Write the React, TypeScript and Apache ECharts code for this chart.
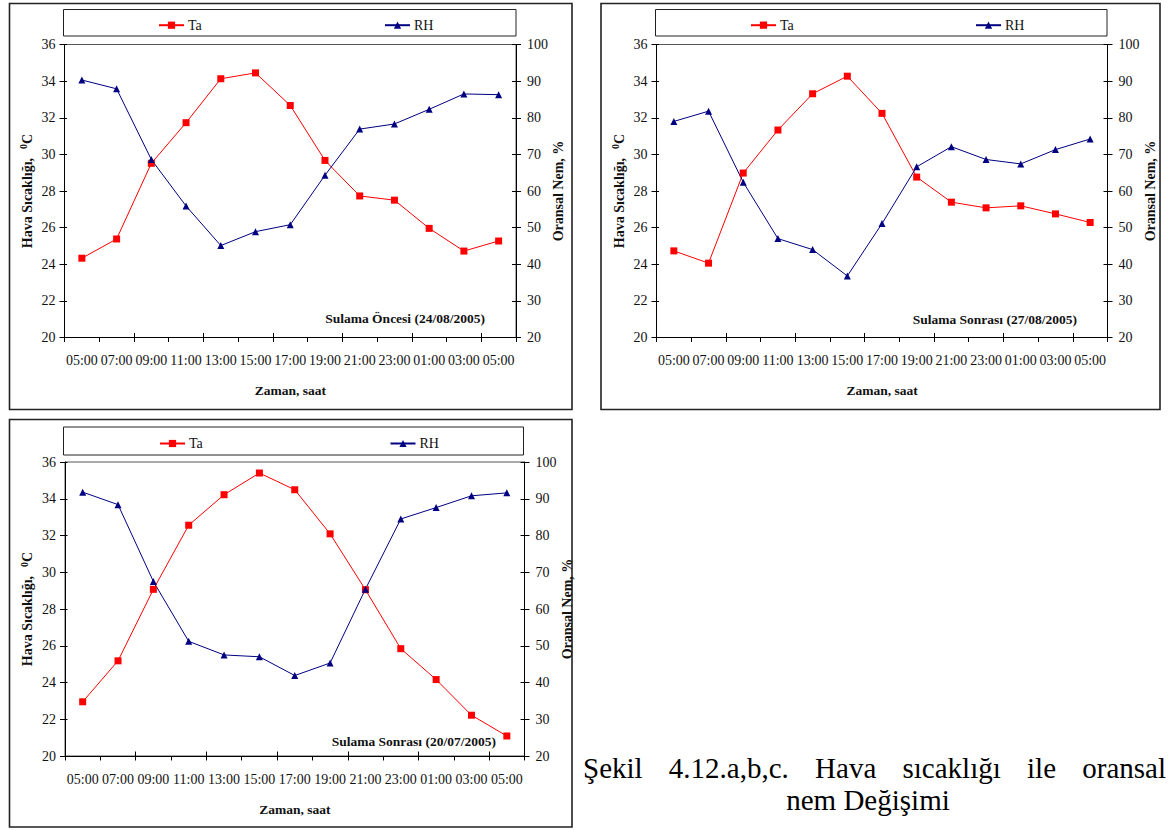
import React, { useEffect, useRef } from "react";
import * as echarts from "echarts";

// ---- data ----
const hours = ["05:00", "07:00", "09:00", "11:00", "13:00", "15:00", "17:00", "19:00", "21:00", "23:00", "01:00", "03:00", "05:00"];
const legendNames = ["Ta", "RH"];

const taA = [24.33, 25.38, 29.51, 31.73, 34.13, 34.45, 32.67, 29.67, 27.73, 27.5, 25.96, 24.72, 25.27];
const rhA = [90.3, 87.9, 68.6, 55.9, 45.1, 48.9, 50.8, 64.3, 76.9, 78.3, 82.3, 86.5, 86.3];
const taB = [24.73, 24.06, 28.98, 31.33, 33.31, 34.27, 32.24, 28.76, 27.39, 27.08, 27.19, 26.75, 26.28];
const rhB = [79.0, 81.8, 62.4, 47.0, 44.0, 36.8, 51.1, 66.6, 72.1, 68.6, 67.4, 71.3, 74.2];
const taC = [22.95, 25.18, 29.07, 32.56, 34.22, 35.4, 34.49, 32.09, 29.05, 25.84, 24.16, 22.22, 21.09];
const rhC = [91.8, 88.4, 67.5, 51.2, 47.5, 47.0, 41.9, 45.3, 65.4, 84.5, 87.6, 90.8, 91.6];

const noteA = "Sulama Öncesi (24/08/2005)";
const noteB = "Sulama Sonrası (27/08/2005)";
const noteC = "Sulama Sonrası (20/07/2005)";

const taAxis = { min: 20, max: 36, interval: 2 };
const rhAxis = { min: 20, max: 100, interval: 10 };

const xTitle = "Zaman, saat";
const leftTitle = "{b|Hava Sıcaklığı,}   {s|0}{b|C}";
const rightTitle = "Oransal Nem, %";

const captionLine1 = ["Şekil", "4.12.a,b,c.", "Hava", "sıcaklığı", "ile", "oransal"];
const captionLine2 = "nem Değişimi";

// ---- layout ----
const FONT = "Liberation Serif, DejaVu Serif, serif";

const panels = [
  {
    ta: taA, rh: rhA, note: noteA,
    grid: { left: 64.5, top: 44.5, width: 451.5, height: 293 },
    box: { x: 9.5, y: 3.5, w: 562.5, h: 406 },
    lbox: { x: 63.5, y: 9.5, w: 452.5, h: 26.5 },
    legTa: 158, legRh: 384, legY: 22.7,
    noteX: 485, noteY: 318,
  },
  {
    ta: taB, rh: rhB, note: noteB,
    grid: { left: 656.5, top: 44.5, width: 451, height: 293 },
    box: { x: 601, y: 3.5, w: 559, h: 406 },
    lbox: { x: 655.5, y: 9.5, w: 451.5, h: 26.5 },
    legTa: 750, legRh: 975, legY: 22.7,
    noteX: 1077, noteY: 319,
  },
  {
    ta: taC, rh: rhC, note: noteC,
    grid: { left: 65, top: 462, width: 459.5, height: 294 },
    box: { x: 9.5, y: 419.5, w: 562.5, h: 407.5 },
    lbox: { x: 63.5, y: 427, w: 460, h: 28 },
    legTa: 159, legRh: 389.5, legY: 441,
    noteX: 496, noteY: 741.5,
  },
];

export default function App() {
  const ref = useRef<HTMLDivElement>(null);

  useEffect(() => {
    if (!ref.current) return;
    const chart = echarts.init(ref.current, null, { renderer: "svg" });

    const grids: any[] = [];
    const xAxes: any[] = [];
    const yAxes: any[] = [];
    const series: any[] = [];
    const legends: any[] = [];
    const graphics: any[] = [];

    const labelStyle = { fontFamily: FONT, color: "#111" };
    const tickLine = { color: "#000", width: 1 };

    panels.forEach((p, i) => {
      grids.push({
        ...p.grid,
        show: true,
        borderColor: "#555",
        borderWidth: 1,
        backgroundColor: "transparent",
        containLabel: false,
        outerBoundsMode: "none",
      });

      const xi = xAxes.length;
      xAxes.push({
        type: "category",
        gridIndex: i,
        data: hours,
        position: "bottom",
        boundaryGap: true,
        axisLine: { show: true, onZero: false, lineStyle: tickLine },
        axisTick: { show: true, inside: false, length: 4.5, lineStyle: tickLine },
        axisLabel: { ...labelStyle, interval: 0, fontSize: 14, margin: 16 },
        splitLine: { show: false },
        name: xTitle,
        nameLocation: "middle",
        nameGap: 46,
        nameTextStyle: { fontFamily: FONT, fontWeight: "bold", fontSize: 13.5, color: "#111", verticalAlign: "top" },
      });
      xAxes.push({
        type: "category",
        gridIndex: i,
        data: hours,
        position: "bottom",
        boundaryGap: true,
        axisLine: { show: false, onZero: false },
        axisTick: { show: true, inside: true, length: 4.5, lineStyle: tickLine },
        axisLabel: { show: false },
        splitLine: { show: false },
      });

      const yl = yAxes.length;
      yAxes.push({
        type: "value",
        gridIndex: i,
        position: "left",
        ...taAxis,
        axisLine: { show: true, onZero: false, lineStyle: tickLine },
        axisTick: { show: true, inside: false, length: 5, lineStyle: tickLine },
        axisLabel: { ...labelStyle, fontSize: 14, margin: 9 },
        splitLine: { show: false },
        name: leftTitle,
        nameLocation: "middle",
        nameRotate: 90,
        nameGap: 29,
        nameTextStyle: {
          fontFamily: FONT,
          color: "#111",
          rich: {
            b: { fontFamily: FONT, fontWeight: "bold", fontSize: 14, color: "#111", lineHeight: 17 },
            s: { fontFamily: FONT, fontWeight: "bold", fontSize: 10, color: "#111", verticalAlign: "top", lineHeight: 17 },
          },
        },
      });
      yAxes.push({
        type: "value",
        gridIndex: i,
        position: "left",
        ...taAxis,
        axisLine: { show: false, onZero: false },
        axisTick: { show: true, inside: true, length: 2.5, lineStyle: tickLine },
        axisLabel: { show: false },
        splitLine: { show: false },
      });
      const yr = yAxes.length;
      yAxes.push({
        type: "value",
        gridIndex: i,
        position: "right",
        ...rhAxis,
        axisLine: { show: true, onZero: false, lineStyle: tickLine },
        axisTick: { show: true, inside: false, length: 5, lineStyle: tickLine },
        axisLabel: { ...labelStyle, fontSize: 14, margin: 11 },
        splitLine: { show: false },
        name: rightTitle,
        nameLocation: "middle",
        nameRotate: 90,
        nameGap: 34,
        nameTextStyle: { fontFamily: FONT, fontWeight: "bold", fontSize: 14, color: "#111" },
      });
      yAxes.push({
        type: "value",
        gridIndex: i,
        position: "right",
        ...rhAxis,
        axisLine: { show: false, onZero: false },
        axisTick: { show: true, inside: true, length: 4, lineStyle: tickLine },
        axisLabel: { show: false },
        splitLine: { show: false },
      });

      series.push({
        name: legendNames[0],
        type: "line",
        xAxisIndex: xi,
        yAxisIndex: yl,
        data: p.ta,
        symbol: "rect",
        symbolSize: 7,
        showSymbol: true,
        lineStyle: { color: "#FF0000", width: 1 },
        itemStyle: { color: "#FF0000" },
        emphasis: { disabled: true },
      });
      series.push({
        name: legendNames[1],
        type: "line",
        xAxisIndex: xi,
        yAxisIndex: yr,
        data: p.rh,
        symbol: "triangle",
        symbolSize: 7,
        showSymbol: true,
        lineStyle: { color: "#000080", width: 1 },
        itemStyle: { color: "#000080" },
        emphasis: { disabled: true },
      });

      const legBase = {
        orient: "horizontal",
        itemWidth: 25,
        itemHeight: 9,
        padding: 0,
        selectedMode: false,
        textStyle: { fontFamily: FONT, fontSize: 14, color: "#111", padding: [0, 0, 0, -1] },
      };
      legends.push({ ...legBase, data: [legendNames[0]], left: p.legTa, top: p.legY - 4.5 });
      legends.push({ ...legBase, data: [legendNames[1]], left: p.legRh, top: p.legY - 4.5 });

      graphics.push({
        type: "rect",
        shape: { x: p.box.x, y: p.box.y, width: p.box.w, height: p.box.h },
        style: { fill: "none", stroke: "#222", lineWidth: 1.6 },
        silent: true,
      });
      graphics.push({
        type: "rect",
        shape: { x: p.lbox.x, y: p.lbox.y, width: p.lbox.w, height: p.lbox.h },
        style: { fill: "none", stroke: "#222", lineWidth: 1 },
        silent: true,
      });
      graphics.push({
        type: "text",
        x: p.noteX,
        y: p.noteY,
        silent: true,
        style: {
          text: p.note,
          fontFamily: FONT,
          fontWeight: "bold",
          fontSize: 13.5,
          fill: "#111",
          align: "right",
          verticalAlign: "middle",
        },
      });
    });

    // caption (justified first line, centred second line)
    const capSize = 29;
    const capLeft = 583;
    const capRight = 1166;
    const ctx = document.createElement("canvas").getContext("2d");
    let widths = captionLine1.map((w) => w.length * capSize * 0.45);
    if (ctx) {
      ctx.font = `${capSize}px "Liberation Serif", "DejaVu Serif", serif`;
      widths = captionLine1.map((w) => ctx.measureText(w).width);
    }
    const total = widths.reduce((a, b) => a + b, 0);
    const gap = (capRight - capLeft - total) / (captionLine1.length - 1);
    let cx = capLeft;
    captionLine1.forEach((w, k) => {
      graphics.push({
        type: "text",
        x: cx,
        y: 768,
        silent: true,
        style: { text: w, fontFamily: FONT, fontSize: capSize, fill: "#000", align: "left", verticalAlign: "middle" },
      });
      cx += widths[k] + gap;
    });
    graphics.push({
      type: "text",
      x: 868,
      y: 800,
      silent: true,
      style: { text: captionLine2, fontFamily: FONT, fontSize: capSize, fill: "#000", align: "center", verticalAlign: "middle" },
    });

    chart.setOption({
      animation: false,
      backgroundColor: "#fff",
      grid: grids,
      xAxis: xAxes,
      yAxis: yAxes,
      legend: legends,
      series,
      graphic: graphics,
    });

    return () => chart.dispose();
  }, []);

  return (
    <div
      ref={ref}
      style={{ position: "fixed", left: 0, top: 0, width: 1169, height: 830, background: "#fff" }}
    />
  );
}
